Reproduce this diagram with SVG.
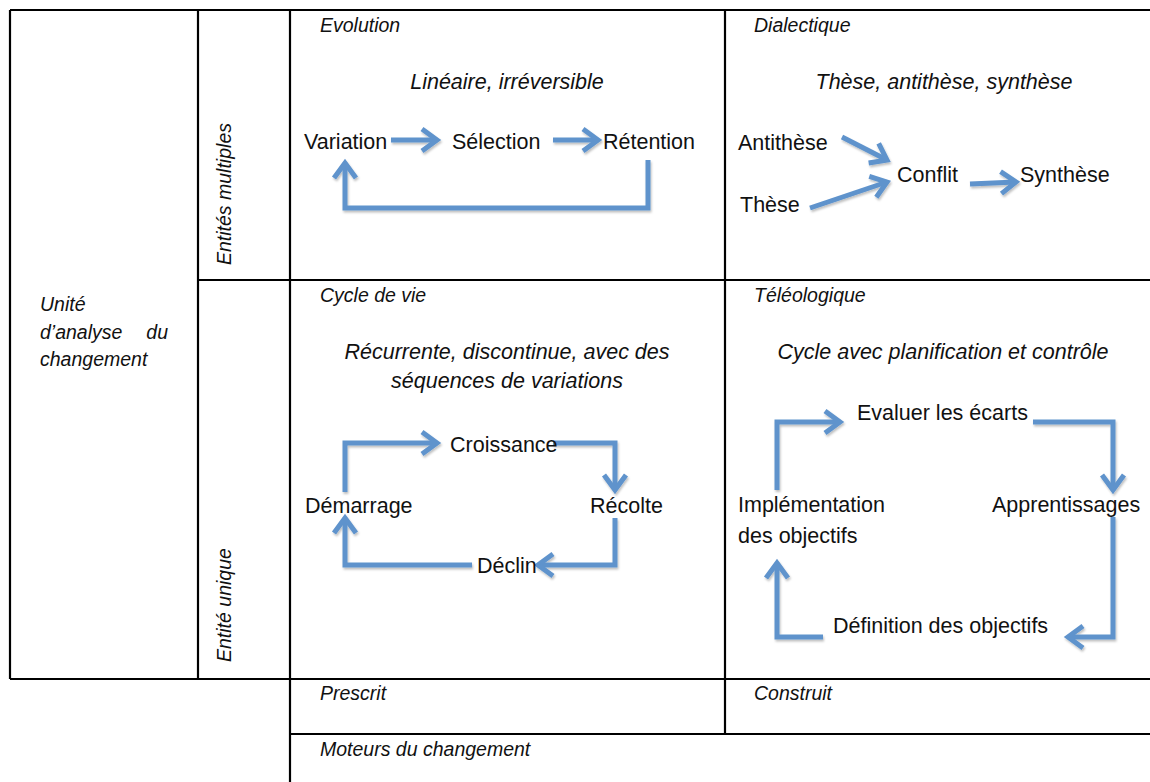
<svg xmlns="http://www.w3.org/2000/svg" width="1150" height="782" viewBox="0 0 1150 782">
<style>
.grid{stroke:#000;stroke-width:2.2;fill:none}
.hd{font-family:"Liberation Sans",Arial,sans-serif;font-style:italic;font-size:19.5px;fill:#111}
.sub{font-family:"Liberation Sans",Arial,sans-serif;font-style:italic;font-size:21.5px;fill:#111;text-anchor:middle}
.lbl{font-family:"Liberation Sans",Arial,sans-serif;font-size:21.5px;fill:#111}
.con{fill:none;stroke:#5F93CC;stroke-width:5;stroke-linejoin:miter;marker-end:url(#ah)}
</style>
<defs>
<marker id="ah" markerUnits="userSpaceOnUse" markerWidth="40" markerHeight="40" viewBox="-20 -20 40 40" refX="0" refY="0" orient="auto" overflow="visible">
<path d="M-15,-11 L0,0 L-15,11" fill="none" stroke="#5F93CC" stroke-width="5"/>
</marker>
<filter id="sh" x="-10%" y="-10%" width="130%" height="130%">
<feDropShadow dx="1" dy="2" stdDeviation="1.2" flood-color="#000" flood-opacity="0.25"/>
</filter>
</defs>
<rect width="1150" height="782" fill="#fff"/>
<g id="table" class="grid">
<path d="M10,10 H1150"/>
<path d="M10,10 V679"/>
<path d="M198,10 V679"/>
<path d="M290,10 V782"/>
<path d="M725,10 V734"/>
<path d="M198,280 H1150"/>
<path d="M10,679 H1150"/>
<path d="M290,734 H1150"/>
</g>
<g id="axis-labels">
<g id="unite"><text class="hd" x="40" y="311">Unité</text><text class="hd" x="40" y="339">d’analyse</text><text class="hd" x="168" y="339" text-anchor="end">du</text><text class="hd" x="40" y="366">changement</text></g>
<g id="entites-multiples"><text class="hd" transform="translate(231,265) rotate(-90)">Entités multiples</text></g>
<g id="entite-unique"><text class="hd" transform="translate(231,662) rotate(-90)">Entité unique</text></g>
<g id="prescrit"><text class="hd" x="320" y="700">Prescrit</text></g>
<g id="construit"><text class="hd" x="754" y="700">Construit</text></g>
<g id="moteurs"><text class="hd" x="320" y="756">Moteurs du changement</text></g>
</g>
<g id="headers">
<text class="hd" x="320" y="32">Evolution</text>
<text class="hd" x="754" y="32">Dialectique</text>
<text class="hd" x="320" y="302">Cycle de vie</text>
<text class="hd" x="754" y="302">Téléologique</text>
<text class="sub" x="507" y="89">Linéaire, irréversible</text>
<text class="sub" x="944" y="89">Thèse, antithèse, synthèse</text>
<text class="sub" x="507" y="359">Récurrente, discontinue, avec des</text>
<text class="sub" x="507" y="388">séquences de variations</text>
<text class="sub" x="943" y="359">Cycle avec planification et contrôle</text>
</g>
<g id="connectors" filter="url(#sh)">
<path class="con" d="M391,140 L437,140"/>
<path class="con" d="M553,140 L598,140"/>
<path class="con" d="M648,160 L648,208 L345,208 L345,163"/>
<path class="con" d="M842,137 L887,160"/>
<path class="con" d="M810,208 L887,182"/>
<path class="con" d="M970,184 L1016,182"/>
<path class="con" d="M345,492 L345,443 L437,443"/>
<path class="con" d="M553,443 L615,443 L615,490"/>
<path class="con" d="M615,518 L615,565 L538,565"/>
<path class="con" d="M472,565 L345,565 L345,518"/>
<path class="con" d="M777,490 L777,422 L840,422"/>
<path class="con" d="M1033,422 L1113,422 L1113,490"/>
<path class="con" d="M1113,517 L1113,637 L1068,637"/>
<path class="con" d="M823,637 L777,637 L777,563"/>
</g>
<g id="n-variation"><text class="lbl" x="304" y="149">Variation</text></g>
<g id="n-selection"><text class="lbl" x="452" y="149">Sélection</text></g>
<g id="n-retention"><text class="lbl" x="603" y="149">Rétention</text></g>
<g id="n-antithese"><text class="lbl" x="738" y="150">Antithèse</text></g>
<g id="n-these"><text class="lbl" x="740" y="212">Thèse</text></g>
<g id="n-conflit"><text class="lbl" x="897" y="182">Conflit</text></g>
<g id="n-synthese"><text class="lbl" x="1020" y="182">Synthèse</text></g>
<g id="n-croissance"><text class="lbl" x="450" y="452">Croissance</text></g>
<g id="n-demarrage"><text class="lbl" x="305" y="513">Démarrage</text></g>
<g id="n-recolte"><text class="lbl" x="590" y="513">Récolte</text></g>
<g id="n-declin"><text class="lbl" x="477" y="573">Déclin</text></g>
<g id="n-evaluer"><text class="lbl" x="857" y="420">Evaluer les écarts</text></g>
<g id="n-implementation"><text class="lbl" x="738" y="512">Implémentation</text><text class="lbl" x="738" y="543">des objectifs</text></g>
<g id="n-apprentissages"><text class="lbl" x="992" y="512">Apprentissages</text></g>
<g id="n-definition"><text class="lbl" x="833" y="633">Définition des objectifs</text></g>
</svg>
